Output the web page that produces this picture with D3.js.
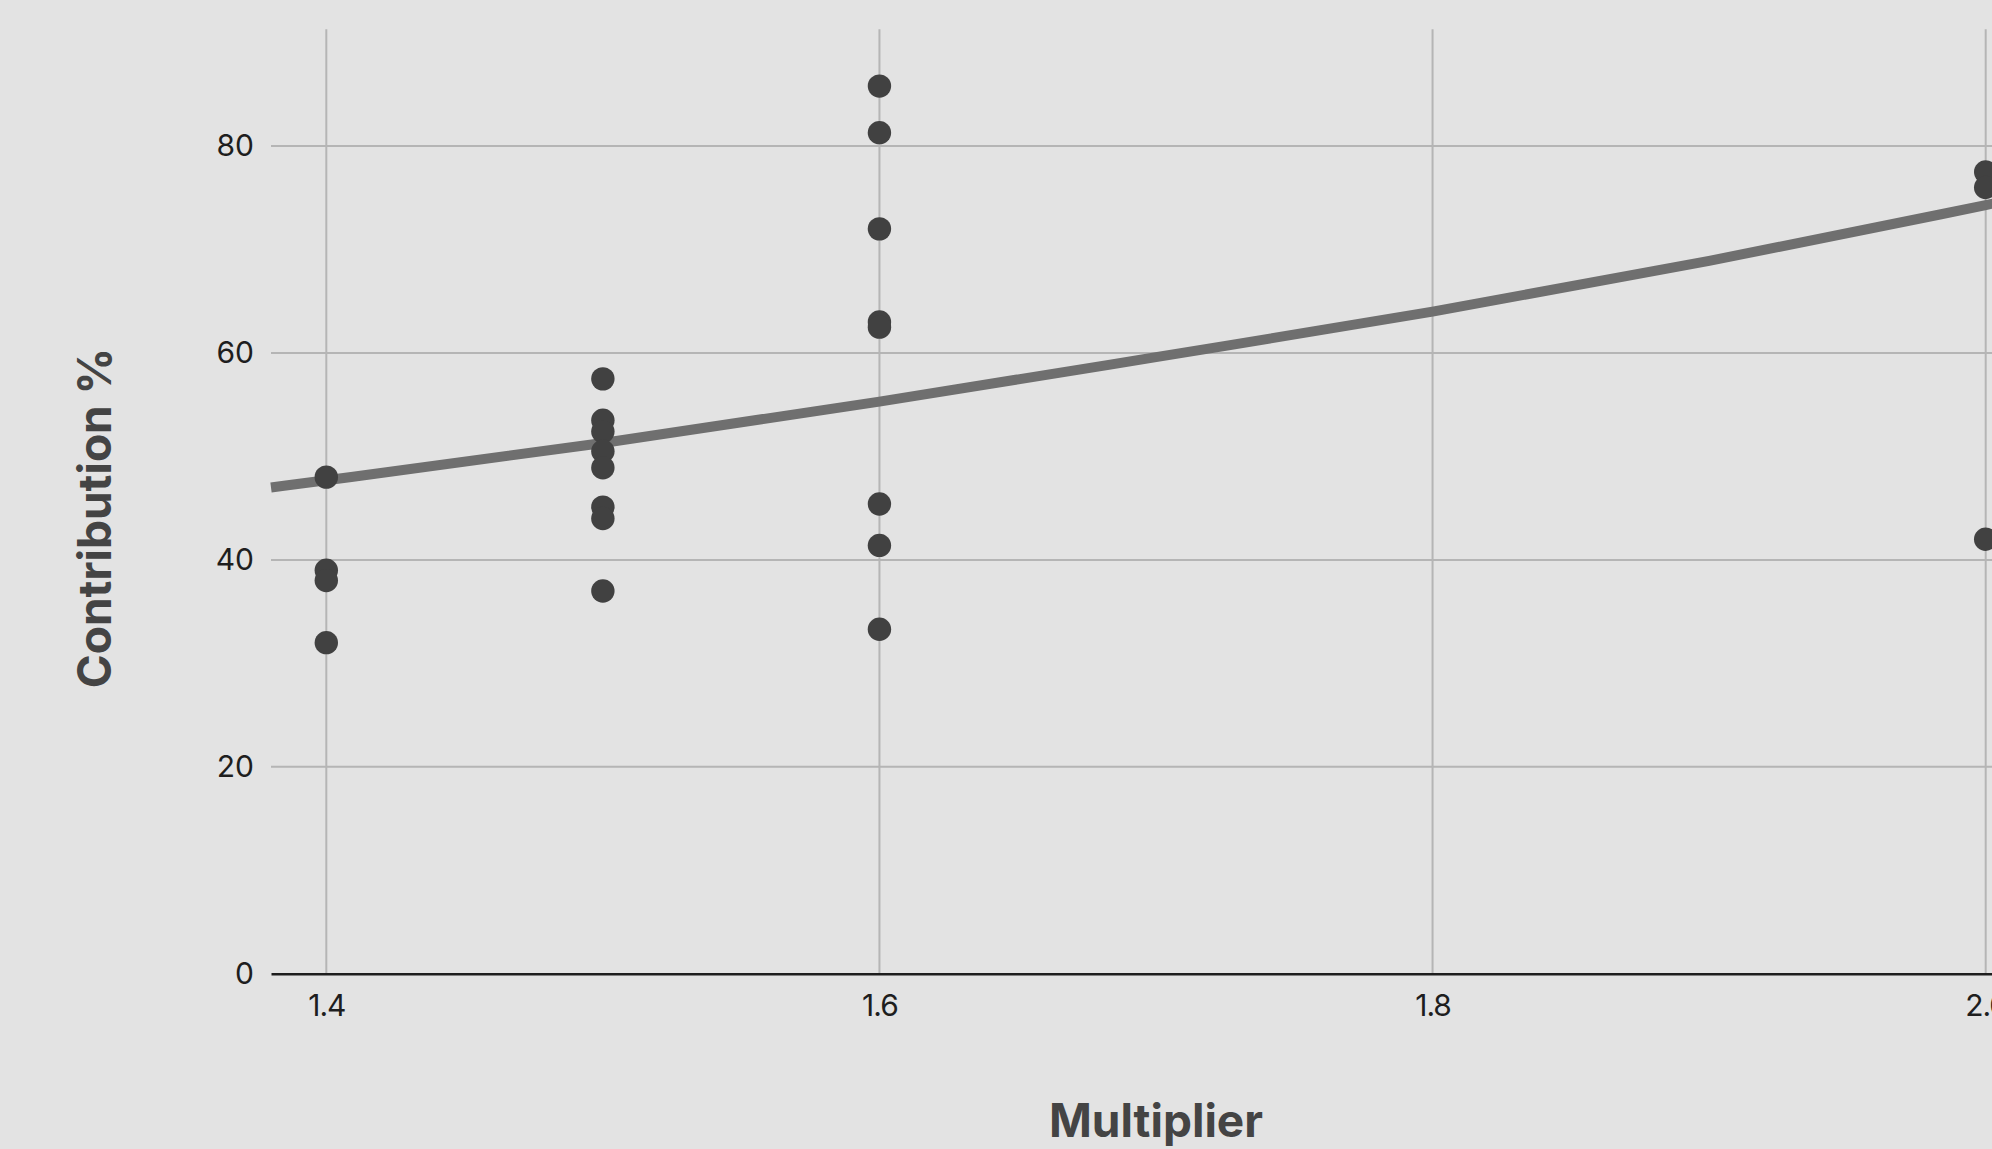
<!DOCTYPE html>
<html>
<head>
<meta charset="utf-8">
<script src="https://cdn.jsdelivr.net/npm/d3@7"></script>
<style>
  html, body { margin: 0; padding: 0; background: #e3e3e3; overflow: hidden; }
  svg { display: block; }
  text { font-family: Inter, "Noto Sans", sans-serif; }
</style>
</head>
<body>
<svg id="chart" width="1992" height="1149"></svg>
<script>
// Observations: multiplier and contribution share an index
const multipliers = [
  1.4, 1.4, 1.4, 1.4,
  1.5, 1.5, 1.5, 1.5, 1.5, 1.5, 1.5, 1.5,
  1.6, 1.6, 1.6, 1.6, 1.6, 1.6, 1.6, 1.6,
  2.0, 2.0, 2.0
];
const contributions = [
  48.0, 39.0, 38.0, 32.0,
  57.5, 53.5, 52.4, 50.5, 48.9, 45.1, 44.0, 37.0,
  85.8, 81.3, 72.0, 63.0, 62.5, 45.4, 41.4, 33.3,
  77.5, 76.0, 42.0
];

// Trend curve, sampled along the multiplier axis
const trendX = [1.38, 1.40, 1.50, 1.60, 1.70, 1.80, 1.90, 2.00, 2.02];
const trendY = [47.0, 47.7, 51.3, 55.3, 59.6, 64.0, 68.9, 74.3, 75.4];

const xTicks = [1.4, 1.6, 1.8, 2.0];
const yTicks = [0, 20, 40, 60, 80];
const xTitle = "Multiplier";
const yTitle = "Contribution %";

const svg = d3.select("#chart");
const W = 1992, H = 1149;

svg.append("rect").attr("width", W).attr("height", H).attr("fill", "#e3e3e3");

const x = d3.scaleLinear().domain([1.38, 2.02]).range([271, 2041]);
const y = d3.scaleLinear().domain([0, 91.3]).range([973.7, 29.2]);

// Grid
const grid = svg.append("g");
grid.selectAll("line.h")
  .data(yTicks.filter(d => d !== 0))
  .join("line")
  .attr("x1", x.range()[0]).attr("x2", x.range()[1])
  .attr("y1", d => y(d)).attr("y2", d => y(d))
  .attr("stroke", "#b5b5b5").attr("stroke-width", 2);
grid.selectAll("line.v")
  .data(xTicks)
  .join("line")
  .attr("x1", d => x(d)).attr("x2", d => x(d))
  .attr("y1", y(0)).attr("y2", y.range()[1])
  .attr("stroke", "#b5b5b5").attr("stroke-width", 2);

// Axes
const xAxis = d3.axisBottom(x).tickValues(xTicks).tickFormat(d3.format(".1f")).tickSize(0).tickPadding(21);
const gx = svg.append("g").attr("transform", `translate(0,${y(0)})`).call(xAxis);
gx.select(".domain").attr("stroke", "#1e1e1e").attr("stroke-width", 2.5);
gx.selectAll(".tick text").attr("font-size", 30).attr("fill", "#1e1e1e")
  .attr("font-family", "Inter, sans-serif").attr("letter-spacing", -1);

const yAxis = d3.axisLeft(y).tickValues(yTicks).tickFormat(d3.format("d")).tickSize(0).tickPadding(17);
const gy = svg.append("g").attr("transform", `translate(${x.range()[0]},0)`).call(yAxis);
gy.select(".domain").remove();
gy.selectAll(".tick text").attr("font-size", 30).attr("fill", "#1e1e1e")
  .attr("font-family", "Inter, sans-serif");

// Trend curve
const trend = trendX.map((v, i) => [v, trendY[i]]);
const trendLine = d3.line()
  .x(d => x(d[0]))
  .y(d => y(d[1]))
  .curve(d3.curveMonotoneX);
svg.append("path")
  .datum(trend)
  .attr("fill", "none")
  .attr("stroke", "#6f6f6f")
  .attr("stroke-width", 10)
  .attr("d", trendLine);

// Points
svg.append("g").selectAll("circle")
  .data(multipliers.map((m, i) => [m, contributions[i]]))
  .join("circle")
  .attr("cx", d => x(d[0]))
  .attr("cy", d => y(d[1]))
  .attr("r", 11.7)
  .attr("fill", "#414141");

// Axis titles
svg.append("text")
  .attr("x", (x.range()[0] + x.range()[1]) / 2)
  .attr("y", 1137)
  .attr("text-anchor", "middle")
  .attr("font-size", 46).attr("font-weight", 700).attr("fill", "#444444")
  .text(xTitle);

svg.append("text")
  .attr("transform", "translate(111,518) rotate(-90)")
  .attr("text-anchor", "middle")
  .attr("font-size", 46).attr("font-weight", 700).attr("fill", "#444444")
  .text(yTitle);
</script>
</body>
</html>
